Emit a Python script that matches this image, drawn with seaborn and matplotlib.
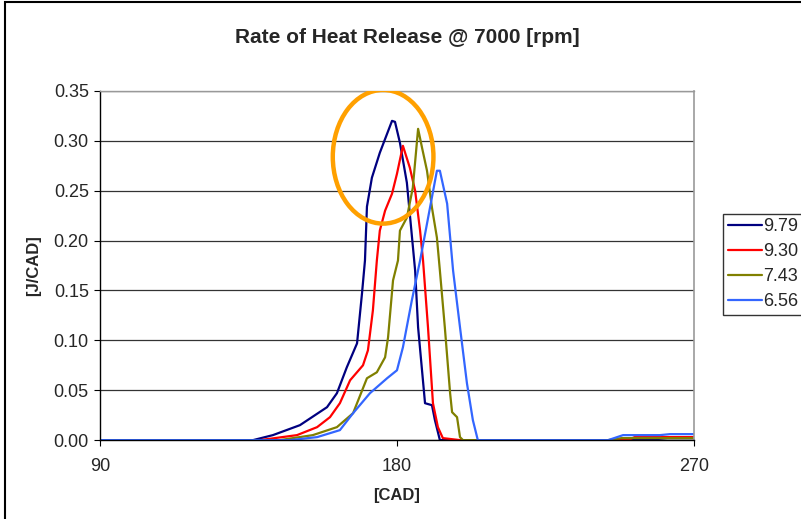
import numpy as np
import pandas as pd
import matplotlib
matplotlib.use("Agg")
import matplotlib.pyplot as plt
from matplotlib.patches import Ellipse, Rectangle
import seaborn as sns

# --- DATA ---
cad_979 = [90, 136.4, 142.4, 150.6, 158.8, 161.8, 164.8, 167.9, 169.4, 170.3, 170.9, 172.4,
           174.8, 178.5, 179.4, 180.9, 183.0, 185.5, 186.4, 188.5, 190.6, 191.5, 193.0,
           255, 262, 270]
rhr_979 = [0, 0, 0.005, 0.015, 0.033, 0.047, 0.073, 0.097, 0.147, 0.180, 0.234, 0.263,
           0.288, 0.320, 0.319, 0.298, 0.258, 0.170, 0.113, 0.037, 0.035, 0.020, 0,
           0, 0.002, 0.002]

cad_930 = [90, 138.5, 149.7, 155.8, 159.7, 162.7, 165.8, 169.7, 171.2, 172.7, 173.9, 174.8,
           176.4, 178.5, 180.0, 181.8, 183.9, 185.5, 187.0, 187.9, 189.4, 190.9, 192.4,
           193.9, 199.1, 250, 252, 270]
rhr_930 = [0, 0, 0.005, 0.013, 0.023, 0.037, 0.060, 0.075, 0.090, 0.130, 0.180, 0.210,
           0.230, 0.247, 0.267, 0.295, 0.273, 0.250, 0.210, 0.180, 0.113, 0.037, 0.013,
           0.002, 0, 0, 0.003, 0.003]

cad_743 = [90, 144.5, 154.5, 161.8, 166.7, 170.9, 173.9, 176.4, 177.3, 178.8, 180.3, 180.9,
           183.0, 184.8, 186.4, 187.6, 189.1, 190.6, 192.1, 193.0, 194.5, 196.1, 196.7,
           198.2, 199.1, 200.0, 244, 248, 270]
rhr_743 = [0, 0, 0.005, 0.013, 0.027, 0.062, 0.068, 0.083, 0.103, 0.160, 0.180, 0.210,
           0.223, 0.253, 0.312, 0.293, 0.270, 0.233, 0.203, 0.170, 0.113, 0.047, 0.028,
           0.023, 0.003, 0, 0, 0.002, 0.002]

cad_656 = [90, 147.6, 155.8, 162.7, 166.7, 171.8, 177.0, 180.0, 181.8, 184.5, 187.0, 189.1,
           192.1, 193.0, 195.2, 197.0, 199.1, 201.2, 203.0, 204.5, 244, 248.5, 259.7,
           262.7, 270]
rhr_656 = [0, 0, 0.003, 0.010, 0.027, 0.047, 0.062, 0.070, 0.093, 0.140, 0.180, 0.217,
           0.270, 0.270, 0.237, 0.170, 0.113, 0.057, 0.020, 0, 0, 0.005, 0.005,
           0.006, 0.006]

series_names = ["9.79", "9.30", "7.43", "6.56"]
series_colors = ["#000080", "#FF0000", "#808000", "#3366FF"]

frames = []
for name, xs, ys in zip(series_names,
                        [cad_979, cad_930, cad_743, cad_656],
                        [rhr_979, rhr_930, rhr_743, rhr_656]):
    frames.append(pd.DataFrame({"CAD": xs, "RHR": ys, "series": name}))
df = pd.concat(frames, ignore_index=True)

# --- STYLE ---
sns.set_style("white")
plt.rcParams["font.family"] = ["Liberation Sans", "DejaVu Sans"]

fig = plt.figure(figsize=(8.01, 5.19), dpi=100)
ax = fig.add_axes([0.1248, 0.152, 0.7416, 0.6728])

sns.lineplot(data=df, x="CAD", y="RHR", hue="series", hue_order=series_names,
             palette=dict(zip(series_names, series_colors)), estimator=None,
             sort=False, linewidth=1.6, ax=ax, legend=True)

# highlight circle around the peaks
ax.add_patch(Ellipse((175.8, 0.284), 30.5, 0.134, fill=False,
                     edgecolor="#FFA000", linewidth=3.2, zorder=5))

ax.set_xlim(90, 270)
ax.set_ylim(0, 0.35)
ax.set_xticks([90, 180, 270])
ax.set_yticks(np.arange(0, 0.351, 0.05))
ax.yaxis.set_major_formatter(matplotlib.ticker.FormatStrFormatter("%.2f"))
ax.tick_params(axis="both", labelsize=13, direction="out", length=4, width=0.8,
               color="black", left=True, bottom=True)
ax.tick_params(axis="y", pad=4)
ax.tick_params(axis="x", pad=9)
ax.grid(axis="y", color="#333333", linewidth=0.9)
ax.grid(axis="x", visible=False)

for side in ["left", "bottom"]:
    ax.spines[side].set_color("black")
    ax.spines[side].set_linewidth(1.0)
ax.spines["right"].set_color("#999999")
ax.spines["right"].set_linewidth(1.2)
ax.spines["top"].set_color("#999999")
ax.spines["top"].set_linewidth(1.0)

# title is centred on the chart area, not on the plot area
fig.text(0.508, 0.928, "Rate of Heat Release @ 7000 [rpm]", fontsize=15,
         fontweight="bold", ha="center", va="center")
ax.set_xlabel("[CAD]", fontsize=12, fontweight="bold", labelpad=9)
ax.set_ylabel("[J/CAD]", fontsize=12, fontweight="bold", labelpad=9)

handles, labels = ax.get_legend_handles_labels()
ax.get_legend().remove()
leg = fig.legend(handles, labels, loc="upper left", bbox_to_anchor=(0.903, 0.588),
                 fontsize=13, frameon=True, fancybox=False, handlelength=1.9,
                 handletextpad=0.08, labelspacing=0.44, borderpad=0.25, borderaxespad=0)
leg.get_frame().set_edgecolor("black")
leg.get_frame().set_linewidth(1.0)

# chart area border
fig.patches.append(Rectangle((0.006, -0.05), 1.1, 1.047, transform=fig.transFigure,
                             fill=False, edgecolor="black", linewidth=1.5))

fig.savefig("out.png", dpi=100)
